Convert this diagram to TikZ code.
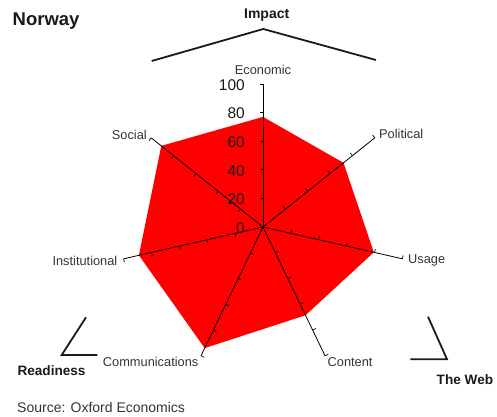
\documentclass[tikz,border=0pt]{standalone}
\usepackage{fontspec}
\setmainfont{Liberation Sans}
\definecolor{radarred}{HTML}{FF0000}
\definecolor{txtgray}{HTML}{333333}
\definecolor{darkline}{HTML}{1A1A1A}
\begin{document}
\begin{tikzpicture}[x=1pt,y=1pt,
  axlab/.style={font=\fontsize{12.8}{14}\selectfont, text=txtgray, inner sep=0pt},
  ticklab/.style={font=\fontsize{15.5}{17}\selectfont, text=darkline, inner sep=0pt, anchor=east},
  grouplab/.style={font=\bfseries\fontsize{13.6}{15}\selectfont, text=darkline, inner sep=0pt, anchor=west},
  bracketline/.style={draw=darkline, line width=1.8pt, line join=miter},
  axisline/.style={draw=black, line width=0.8pt},
  tickline/.style={draw=black, line width=0.7pt}]
\useasboundingbox (0,0) rectangle (497,416);
\coordinate (C) at (263,189);
\def\U{1.43}
\begin{scope}[shift={(C)}]
  % data polygon
  \fill[radarred] (90:{77*\U}) -- (38.571:{72*\U}) -- (-12.857:{79.5*\U})
     -- (-64.286:{68.5*\U}) -- (-115.714:{94*\U}) -- (-167.143:{89*\U})
     -- (-218.571:{91*\U}) -- cycle;
  % axes
  \foreach \a/\n in {90/eco,38.571/pol,-12.857/usa,-64.286/con,-115.714/com,-167.143/ins,-218.571/soc}{
    \coordinate (end-\n) at (\a:{100*\U});
    \draw[axisline] (0,0) -- (end-\n);
    \foreach \v in {20,40,60,80,100}
      \draw[tickline] (\a:{\v*\U}) -- ++({\a+90}:3.5);
  }
\end{scope}
% tick labels
\foreach \v in {0,20,40,60,80,100}
  \node[ticklab] (t\v) at ([shift={(-18,{\v*\U-1})}]C) {\v};
% axis labels
\node[axlab] (lEco) at (263,346) {Economic};
\node[axlab, anchor=west] (lPol) at (379,281.7) {Political};
\node[axlab, anchor=west] (lUsa) at (408,155.3) {Usage};
\node[axlab, anchor=west] (lCon) at (327.5,54.3) {Content};
\node[axlab, anchor=east] (lCom) at (198.5,54.3) {Communications};
\node[axlab, anchor=east] (lIns) at (117.5,155.3) {Institutional};
\node[axlab, anchor=east] (lSoc) at (147,281.3) {Social};
% titles
\node[font=\bfseries\fontsize{18.5}{20}\selectfont, text=darkline, inner sep=0pt, anchor=west] (title) at (12.5,395) {Norway};
\node[font=\bfseries\fontsize{14}{15}\selectfont, text=darkline, inner sep=0pt] (impact) at (266.7,401) {Impact};
\node[grouplab] (ready) at (17.3,45.3) {Readiness};
\node[grouplab] (web) at (436.5,36) {The Web};
\node[font=\fontsize{14}{15}\selectfont, text=txtgray, inner sep=0pt, anchor=west] (src) at (17,9) {Source: Oxford Economics};
% brackets
\coordinate (ib1) at (151.7,355);
\coordinate (ib2) at (263.3,387);
\coordinate (ib3) at (376,356);
\draw[bracketline] (ib1) -- (ib2) -- (ib3);
\coordinate (rb1) at (86,98.7);
\coordinate (rb2) at (61.7,61);
\coordinate (rb3) at (97.3,61);
\draw[bracketline] (rb1) -- (rb2) -- (rb3);
\coordinate (wb1) at (428,99.3);
\coordinate (wb2) at (447,56.7);
\coordinate (wb3) at (410.3,56.7);
\draw[bracketline] (wb1) -- (wb2) -- (wb3);
\end{tikzpicture}
\end{document}
